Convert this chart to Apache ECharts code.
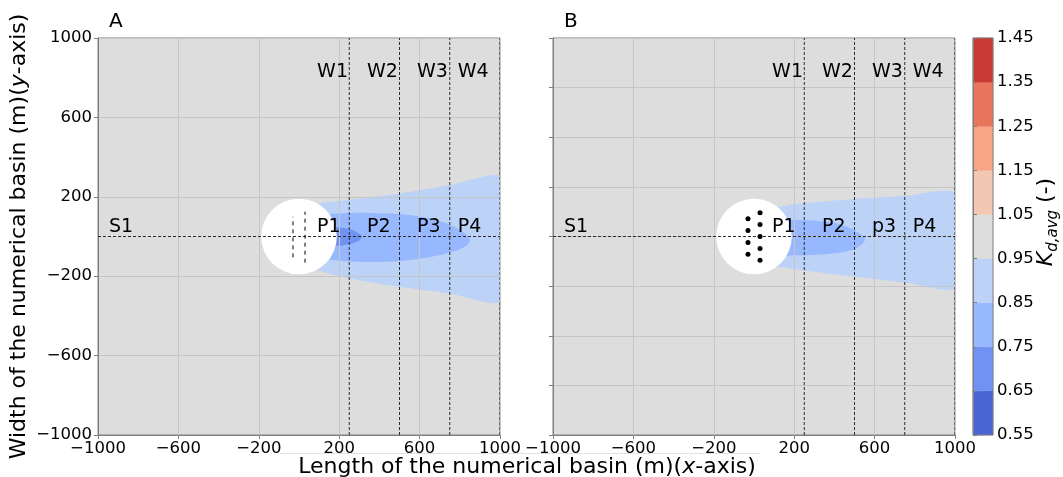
<!DOCTYPE html>
<html>
<head>
<meta charset="utf-8">
<script src="https://cdn.jsdelivr.net/npm/echarts@6/dist/echarts.min.js"></script>
<style>
  html, body { margin: 0; padding: 0; background: #fff; }
  #chart { width: 1063px; height: 477px; }
</style>
</head>
<body>
<div id="chart"></div>
<script>
// tick values
const xTicks = [-1000, -600, -200, 200, 600, 1000]
const yTicksA = [-1000, -600, -200, 200, 600, 1000]
const yStepB = 250
const levels = [0.55, 0.65, 0.75, 0.85, 0.95, 1.05, 1.15, 1.25, 1.35, 1.45]
// coolwarm, one colour per band between two levels
const levelColors = ['#4b65d5', '#7092f3', '#97b8ff', '#bcd2f7', '#dddddd', '#f3c8b2', '#f7a586', '#e7755c', '#c93936']

// contour bands, [x, y] in metres
const bandA085 = [[0, 150], [90, 168], [250, 185], [500, 217], [750, 258], [1000, 300],
  [1000, -325], [750, -287], [500, -253], [250, -211], [90, -170], [0, -150]]
const bandA075 = [[60, 95], [150, 112], [250, 118], [350, 119], [450, 116], [550, 108], [650, 92],
  [730, 68], [790, 40], [835, 8], [851, -20], [835, -45], [790, -68], [720, -90], [620, -110],
  [520, -122], [420, -128], [300, -128], [200, -122], [100, -108], [60, -100]]
const bandA065 = [[80, 50], [190, 47], [240, 40], [280, 27], [305, 10], [313, -3], [300, -20],
  [265, -35], [220, -44], [190, -47], [80, -48]]
const bandB085 = [[0, 130], [129, 150], [229, 167], [493, 188], [750, 205], [1000, 219],
  [1000, -260], [750, -232], [493, -202], [229, -169], [129, -154], [0, -140]]
const bandB075 = [[80, 78], [180, 83], [300, 80], [400, 68], [460, 50], [510, 25], [545, 0],
  [552, -18], [535, -42], [495, -65], [420, -82], [320, -92], [200, -95], [80, -92]]

// obstacle [x, y, radius]
const obstacle = [0, 0, 188]
// section lines
const wellX = [250, 500, 750, 1000]
const labelX = [90, 338, 587, 790]
const wLabelY = 830
const pLabelY = 46
const sLabel = [-945, 46]
const wLabels = ['W1', 'W2', 'W3', 'W4']
const pLabelsA = ['P1', 'P2', 'P3', 'P4']
const pLabelsB = ['P1', 'P2', 'p3', 'P4']
// short dashed rows inside the obstacle (A): [x, yBottom, yTop]
const rowsA = [[-30, -105, 100], [30, -132, 125]]
// dots inside the obstacle (B)
const dotsB = [[-30, 90], [-30, 30], [-30, -30], [-30, -90],
  [30, 120], [30, 60], [30, 0], [30, -60], [30, -120]]

const FONT = '"DejaVu Sans", sans-serif'
const TICK = 16.5
const TITLE = 22
const fmt = v => (v < 0 ? '\u2212' + Math.abs(v) : String(v))

const polygon = (pts, color, idx) => ({
  type: 'custom', xAxisIndex: idx, yAxisIndex: idx, z: 1, silent: true, clip: true,
  data: pts,
  renderItem: (params, api) => {
    if (params.dataIndex !== 0) return
    return {
      type: 'polygon',
      shape: { points: pts.map(p => api.coord(p)), smooth: 0.2 },
      style: { fill: color }
    }
  }
})

const segments = (segs, idx, dash, color) => ({
  type: 'custom', xAxisIndex: idx, yAxisIndex: idx, z: 5, silent: true, clip: true,
  data: segs, encode: { x: [0, 2], y: [1, 3] },
  renderItem: (params, api) => {
    const a = api.coord([api.value(0), api.value(1)])
    const b = api.coord([api.value(2), api.value(3)])
    return {
      type: 'line',
      shape: { x1: a[0], y1: a[1], x2: b[0], y2: b[1] },
      style: { stroke: color, lineWidth: 1, lineDash: dash }
    }
  }
})

const circle = idx => ({
  type: 'custom', xAxisIndex: idx, yAxisIndex: idx, z: 4, silent: true,
  data: [obstacle],
  renderItem: (params, api) => {
    const c = api.coord([api.value(0), api.value(1)])
    const r = api.size([api.value(2), 0])[0]
    return { type: 'circle', shape: { cx: c[0], cy: c[1], r }, style: { fill: '#ffffff' } }
  }
})

const texts = (pts, labels, idx) => ({
  type: 'custom', xAxisIndex: idx, yAxisIndex: idx, z: 6, silent: true,
  data: pts,
  renderItem: (params, api) => {
    const p = api.coord([api.value(0), api.value(1)])
    return {
      type: 'text', x: p[0], y: p[1],
      style: { text: labels[params.dataIndex], fill: '#000', fontSize: 19, fontFamily: FONT, align: 'left', verticalAlign: 'middle' }
    }
  }
})

const panelSeries = (idx, bands, pLabels) => {
  const lines = wellX.map(x => [x, -1000, x, 1000])
  lines.push([-1000, 0, 1000, 0])
  return [
    polygon(bands[0], levelColors[3], idx),
    polygon(bands[1], levelColors[2], idx),
    ...(bands[2] ? [polygon(bands[2], levelColors[1], idx)] : []),
    circle(idx),
    segments(lines, idx, [3, 2], '#2a2a2a'),
    texts(labelX.map(x => [x, wLabelY]), wLabels, idx),
    texts(labelX.map(x => [x, pLabelY]), pLabels, idx),
    texts([sLabel], ['S1'], idx)
  ]
}

const xAxisFor = idx => ({
  gridIndex: idx, type: 'value', min: -1000, max: 1000, z: 3,
  axisLine: { show: true, onZero: false, lineStyle: { color: '#808080' } },
  axisTick: { show: true, length: 4, customValues: xTicks, lineStyle: { color: '#808080' } },
  axisLabel: { customValues: xTicks, formatter: fmt, fontSize: TICK, fontFamily: FONT, color: '#000', margin: 5 },
  splitLine: { show: true, lineStyle: { color: '#c6c6c6', width: 1 } }
})

const gridStyle = { show: true, backgroundColor: levelColors[4], borderColor: '#808080', borderWidth: 1 }

const chart = echarts.init(document.getElementById('chart'))
chart.setOption({
  animation: false,
  backgroundColor: '#ffffff',
  textStyle: { fontFamily: FONT },
  grid: [
    { left: 98, top: 38, width: 402, height: 397, ...gridStyle },
    { left: 553, top: 38, width: 402, height: 397, ...gridStyle },
    { left: 973, top: 38, width: 20, height: 397 }
  ],
  xAxis: [
    xAxisFor(0),
    xAxisFor(1),
    { gridIndex: 2, type: 'value', min: 0, max: 1, show: false }
  ],
  yAxis: [
    {
      gridIndex: 0, type: 'value', min: -1000, max: 1000, z: 3,
      axisLine: { show: true, onZero: false, lineStyle: { color: '#808080' } },
      axisTick: { show: true, length: 4, customValues: yTicksA, lineStyle: { color: '#808080' } },
      axisLabel: { customValues: yTicksA, formatter: fmt, fontSize: TICK, fontFamily: FONT, color: '#000', margin: 6 },
      splitLine: { show: true, lineStyle: { color: '#c6c6c6', width: 1 } },
      name: '{n|Width of the numerical basin (m)(}{i|y}{n|-axis)}',
      nameLocation: 'middle', nameGap: 68, nameRotate: 90,
      nameTextStyle: {
        rich: {
          n: { fontSize: TITLE, fontFamily: FONT, color: '#000' },
          i: { fontSize: TITLE, fontFamily: FONT, fontStyle: 'italic', color: '#000' }
        }
      }
    },
    {
      gridIndex: 1, type: 'value', min: -1000, max: 1000, interval: yStepB, z: 3,
      axisLine: { show: true, onZero: false, lineStyle: { color: '#808080' } },
      axisTick: { show: true, length: 4, lineStyle: { color: '#808080' } },
      axisLabel: { show: false },
      splitLine: { show: true, lineStyle: { color: '#c6c6c6', width: 1 } }
    },
    {
      gridIndex: 2, type: 'value', min: levels[0], max: levels[levels.length - 1], position: 'right', z: 3,
      axisLine: { show: true, lineStyle: { color: '#808080' } },
      axisTick: { show: true, length: 4, customValues: levels, lineStyle: { color: '#808080' } },
      axisLabel: { customValues: levels, formatter: v => v.toFixed(2), fontSize: TICK, fontFamily: FONT, color: '#000', margin: 4 },
      splitLine: { show: false }
    }
  ],
  graphic: [
    { type: 'text', x: 109, y: 22, style: { text: 'A', fontSize: 20, fontFamily: FONT, fill: '#000', verticalAlign: 'middle' } },
    { type: 'text', x: 564, y: 22, style: { text: 'B', fontSize: 20, fontFamily: FONT, fill: '#000', verticalAlign: 'middle' } },
    { type: 'line', shape: { x1: 280, y1: 453.5, x2: 760, y2: 453.5 }, style: { stroke: '#e2e2e2', lineWidth: 1 } },
    {
      type: 'text', x: 527, y: 467,
      style: {
        text: '{n|Length of the numerical basin (m)(}{i|x}{n|-axis)}',
        align: 'center', verticalAlign: 'middle',
        rich: {
          n: { fontSize: TITLE, fontFamily: FONT, fill: '#000' },
          i: { fontSize: TITLE, fontFamily: FONT, fontStyle: 'italic', fill: '#000' }
        }
      }
    },
    {
      type: 'text', x: 1046, y: 222, rotation: Math.PI / 2,
      style: {
        text: '{k|K}{s|d,avg}{n| (-)}',
        align: 'center', verticalAlign: 'middle',
        rich: {
          k: { fontSize: 22, fontFamily: FONT, fontStyle: 'italic', fill: '#000', lineHeight: 30, verticalAlign: 'middle' },
          s: { fontSize: 15, fontFamily: FONT, fontStyle: 'italic', fill: '#000', lineHeight: 12, verticalAlign: 'bottom' },
          n: { fontSize: 22, fontFamily: FONT, fill: '#000', lineHeight: 30, verticalAlign: 'middle' }
        }
      }
    }
  ],
  series: [
    ...panelSeries(0, [bandA085, bandA075, bandA065], pLabelsA),
    segments(rowsA.map(r => [r[0], r[1], r[0], r[2]]), 0, [4, 4], '#000'),
    ...panelSeries(1, [bandB085, bandB075], pLabelsB),
    {
      type: 'scatter', xAxisIndex: 1, yAxisIndex: 1, z: 6, silent: true,
      symbol: 'circle', symbolSize: 5, itemStyle: { color: '#000', opacity: 1 },
      data: dotsB
    },
    {
      type: 'custom', xAxisIndex: 2, yAxisIndex: 2, z: 1, silent: true,
      data: levels.slice(0, -1).map((lo, i) => [0, lo, 1, levels[i + 1]]),
      encode: { x: [0, 2], y: [1, 3] },
      renderItem: (params, api) => {
        const a = api.coord([api.value(0), api.value(3)])
        const b = api.coord([api.value(2), api.value(1)])
        return {
          type: 'rect',
          shape: { x: a[0], y: a[1], width: b[0] - a[0], height: b[1] - a[1] },
          style: { fill: levelColors[params.dataIndex], stroke: levelColors[params.dataIndex], lineWidth: 0.5 }
        }
      }
    },
    {
      // colorbar outline
      type: 'custom', xAxisIndex: 2, yAxisIndex: 2, z: 2, silent: true,
      data: [[0, levels[0], 1, levels[levels.length - 1]]],
      encode: { x: [0, 2], y: [1, 3] },
      renderItem: (params, api) => {
        const a = api.coord([api.value(0), api.value(3)])
        const b = api.coord([api.value(2), api.value(1)])
        return {
          type: 'rect',
          shape: { x: a[0], y: a[1], width: b[0] - a[0], height: b[1] - a[1] },
          style: { fill: null, stroke: '#808080', lineWidth: 1 }
        }
      }
    }
  ]
})
</script>
</body>
</html>
